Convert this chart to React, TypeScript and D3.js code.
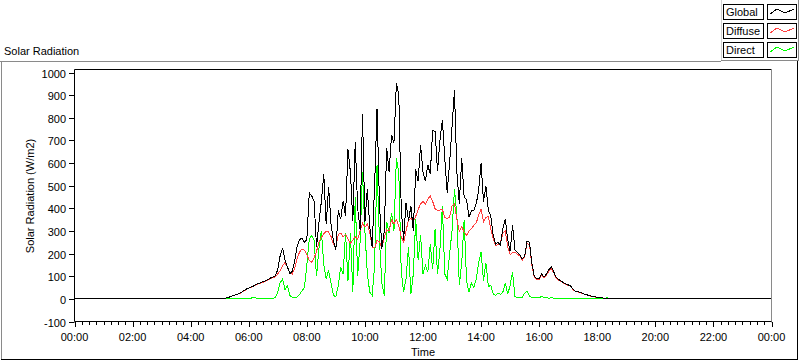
import React from "react";
import * as d3 from "d3";

// ---- data (5-minute samples starting 05:00, W/m2) ----
const seriesNames = ["Global", "Diffuse", "Direct"];
const seriesColors = ["#000000", "#ff4040", "#00ff00"];
const firstSampleHour = 5;
const sampleStepMinutes = 5;

const globalValues = [
  0, 0, 2, 5, 8, 12, 16, 20, 23, 29, 37, 43,
  48, 52, 57, 63, 68, 72, 76, 80, 86, 92, 97, 102,
  130, 192, 226, 170, 140, 112, 122, 168, 232, 262, 268, 250,
  262, 468, 456, 432, 230, 335, 430, 552, 330, 495, 330, 255,
  218, 390, 352, 434, 365, 660, 560, 345, 695, 400, 305, 815,
  340, 485, 320, 228, 500, 840, 425, 222, 300, 665, 560, 725,
  690, 952, 900, 400, 262, 425, 345, 410, 300, 572, 520, 680,
  560, 520, 592, 550, 745, 740, 565, 700, 790, 620, 470, 600,
  760, 922, 560, 420, 620, 450, 440, 360, 390, 392, 420, 480,
  600, 430, 500, 390, 368, 282, 240, 250, 238, 310, 352, 262,
  210, 325, 215, 205, 196, 176, 190, 255, 250, 155, 100, 88,
  90, 110, 96, 110, 128, 142, 120, 95, 86, 80, 72, 66,
  62, 57, 42, 34, 31, 29, 24, 20, 17, 14, 11, 9,
  7, 5, 4, 3, 2, 1, 0, 0, 0, 0, 0, 0,
  0,
];

const diffuseValues = [
  0, 0, 2, 5, 8, 12, 16, 20, 22, 28, 35, 41,
  47, 51, 55, 61, 66, 70, 74, 78, 84, 90, 94, 98,
  110, 125, 148, 160, 140, 115, 110, 135, 180, 206, 221, 215,
  195, 170, 162, 180, 210, 250, 272, 287, 300, 295, 275, 240,
  230, 285, 290, 275, 285, 265, 245, 260, 275, 262, 300, 335,
  317, 330, 295, 230, 225, 258, 252, 225, 270, 305, 300, 350,
  330, 350, 322, 275, 250, 300, 350, 355, 340, 365, 395, 420,
  430, 420, 440, 455, 430, 398, 390, 392, 395, 360, 355, 362,
  410, 420, 350, 300, 320, 295, 280, 300, 310, 325, 335, 370,
  395, 340, 360, 365, 310, 265, 236, 240, 248, 290, 300, 230,
  195, 205, 205, 198, 190, 170, 185, 245, 240, 148, 95, 84,
  86, 105, 92, 105, 122, 135, 116, 92, 83, 77, 70, 64,
  60, 56, 40, 33, 30, 28, 23, 19, 16, 13, 10, 8,
  6, 5, 4, 3, 2, 1, 0, 0, 0, 0, 0, 0,
  0,
];

const directValues = [
  0, 0, 0, 0, 1, 1, 2, 2, 2, 2, 2, 2,
  2, 3, 8, 3, 2, 2, 2, 2, 3, 3, 3, 5,
  30, 72, 88, 40, 58, 15, 7, 6, 8, 20, 35, 50,
  150, 265, 280, 258, 100, 220, 300, 150, 90, 125, 70, 15,
  10, 60, 140, 110, 290, 80, 290, 30, 450, 100, 250, 560,
  300, 110, 30, 15, 147, 590, 260, 70, 15, 340, 290, 380,
  300, 620, 560, 120, 30, 90, 230, 20, 110, 353, 170, 280,
  110, 147, 118, 240, 130, 309, 110, 220, 412, 110, 88, 200,
  300, 486, 370, 60, 160, 350, 80, 29, 70, 50, 88, 162,
  206, 80, 160, 55, 59, 22, 15, 25, 20, 30, 70, 20,
  60, 120, 10, 6, 5, 6, 25, 35, 12, 6, 5, 8,
  4, 12, 4, 6, 3, 5, 3, 3, 3, 3, 3, 3,
  3, 3, 3, 2, 2, 2, 2, 2, 2, 2, 2, 2,
  2, 2, 2, 2, 5, 1, 0, 0, 0, 0, 0, 0,
  0,
];

const xMajorTickHours = [0, 2, 4, 6, 8, 10, 12, 14, 16, 18, 20, 22, 24];
const xTickLabels = ["00:00", "02:00", "04:00", "06:00", "08:00", "10:00", "12:00", "14:00", "16:00", "18:00", "20:00", "22:00", "00:00"];
const yTickValues = [-100, 0, 100, 200, 300, 400, 500, 600, 700, 800, 900, 1000];

const FONT = "'Liberation Sans', Arial, sans-serif";

export default function App() {
  const W = 800;
  const H = 361;
  const left = 74.5;
  const right = 771.5;
  const top = 69.5;
  const bottom = 321.5;

  const x = d3.scaleLinear().domain([0, 24]).range([left, right]);
  const y = d3.scaleLinear().domain([-100, 1000]).range([321.5, 72.5]);

  const toPoints = (vals: number[]): [number, number][] => [
    [0, 0],
    ...vals.map((v, i) => [firstSampleHour + (i * sampleStepMinutes) / 60, v] as [number, number]),
    [24, 0],
  ];
  const line = d3
    .line<[number, number]>()
    .x((d) => x(d[0]))
    .y((d) => y(d[1]));

  const allSeries = [globalValues, diffuseValues, directValues];
  const drawOrder = [2, 1, 0];

  const minorTicks = d3.range(0, 24.001, 0.25).filter((h) => Math.abs(h / 2 - Math.round(h / 2)) > 1e-6);

  const legendRows = [4, 23, 42];

  return (
    <svg
      width={W}
      height={H}
      style={{ position: "absolute", left: 0, top: 0, background: "#fff" }}
      fontFamily={FONT}
    >
      <rect x={0} y={0} width={W} height={H} fill="#fff" />
      {/* outer panel frame */}
      <line x1={0} x2={721} y1={61.5} y2={61.5} stroke="#8a8a8a" />
      <line x1={1.5} x2={1.5} y1={61.5} y2={359} stroke="#8a8a8a" />
      <line x1={1} x2={798} y1={359.5} y2={359.5} stroke="#000" />
      <line x1={797.5} x2={797.5} y1={61} y2={360} stroke="#000" />

      {/* title */}
      <text x={4} y={55} fontSize={11} fill="#000">Solar Radiation</text>

      {/* plot */}
      <defs>
        <clipPath id="plotclip">
          <rect x={left} y={top} width={right - left} height={bottom - top + 1} />
        </clipPath>
      </defs>
      <g clipPath="url(#plotclip)">
        {drawOrder.map((si) => (
          <path
            key={si}
            d={line(toPoints(allSeries[si])) || ""}
            fill="none"
            stroke={seriesColors[si]}
            strokeWidth={1}
            shapeRendering="crispEdges"
          />
        ))}
      </g>

      {/* plot frame */}
      <line x1={left} x2={right} y1={top} y2={top} stroke="#000" />
      <line x1={right} x2={right} y1={top} y2={bottom + 1} stroke="#8a8a8a" />
      <line x1={left} x2={left} y1={top} y2={bottom} stroke="#000" />
      <line x1={left} x2={right} y1={bottom} y2={bottom} stroke="#000" />

      {/* y axis */}
      {yTickValues.map((v) => (
        <g key={v}>
          <line x1={69} x2={left} y1={Math.round(y(v)) + 0.5} y2={Math.round(y(v)) + 0.5} stroke="#000" />
          <text x={66} y={Math.round(y(v)) + 4.5} fontSize={11} textAnchor="end" fill="#000">
            {v}
          </text>
        </g>
      ))}
      <text
        transform={`translate(34,196) rotate(-90)`}
        fontSize={11}
        textAnchor="middle"
        fill="#000"
      >
        Solar Radiation (W/m2)
      </text>

      {/* x axis */}
      {minorTicks.map((h) => (
        <line key={"m" + h} x1={Math.round(x(h)) + 0.5} x2={Math.round(x(h)) + 0.5} y1={322} y2={325} stroke="#000" />
      ))}
      {xMajorTickHours.map((h, i) => (
        <g key={"M" + h}>
          <line x1={Math.round(x(h)) + 0.5} x2={Math.round(x(h)) + 0.5} y1={322} y2={327} stroke="#000" />
          <text x={x(h)} y={341} fontSize={11} textAnchor="middle" fill="#000">
            {xTickLabels[i]}
          </text>
        </g>
      ))}
      <text x={(left + right) / 2} y={356} fontSize={11} textAnchor="middle" fill="#000">
        Time
      </text>

      {/* legend */}
      <line x1={721.5} x2={721.5} y1={0} y2={60} stroke="#d0d0d0" />
      <line x1={721} x2={799} y1={60.5} y2={60.5} stroke="#8a8a8a" />
      <line x1={798.5} x2={798.5} y1={0} y2={61} stroke="#8a8a8a" />
      {seriesNames.map((name, i) => {
        const ry = legendRows[i];
        return (
          <g key={name}>
            <rect x={723.5} y={ry + 0.5} width={40} height={15} fill="#fff" stroke="#000" />
            <text x={726} y={ry + 12} fontSize={11} fill="#000">{name}</text>
            <rect x={767.5} y={ry + 0.5} width={29} height={15} fill="#fff" stroke="#000" />
            <polyline
              points={`770,${ry + 10} 777,${ry + 5} 785,${ry + 9} 794,${ry + 5}`}
              fill="none"
              stroke={seriesColors[i]}
              shapeRendering="crispEdges"
            />
          </g>
        );
      })}
    </svg>
  );
}
